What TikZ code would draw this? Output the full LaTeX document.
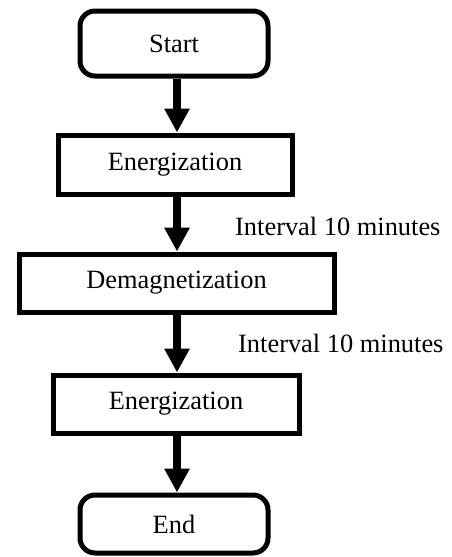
\documentclass[tikz,border=0pt]{standalone}
\usepackage{fontspec}
\setmainfont{Liberation Serif}
\usetikzlibrary{arrows.meta}
\begin{document}
\begin{tikzpicture}[x=1pt,y=-1pt,
  every node/.style={font=\fontsize{26.4}{30}\selectfont},
  term/.style={draw, line width=5pt, rounded corners=15pt, inner sep=0pt, minimum width=188pt},
  proc/.style={draw, line width=5pt, inner sep=0pt, minimum height=58pt},
  flow/.style={line width=8pt, -{Triangle[width=24pt,length=24pt]}},
  lbl/.style={anchor=base west, inner sep=0pt}]
\useasboundingbox (0,0) rectangle (452,557);
\node[term, minimum height=65pt] (start) at (174,43.5) {Start};
\node[proc, minimum width=234pt, minimum height=59pt] (en1) at (175,164.5) {Energization};
\node[proc, minimum width=315pt] (demag) at (176.5,283) {Demagnetization};
\node[proc, minimum width=246pt] (en2) at (176,404) {Energization};
\node[term, minimum height=58pt] (end) at (174,524) {End};
\coordinate (ax) at (177,0);
\draw[flow] (start.south -| ax) -- (en1.north -| ax);
\draw[flow] (en1.south -| ax) -- (demag.north -| ax);
\draw[flow] (demag.south -| ax) -- (en2.north -| ax);
\draw[flow] (en2.south -| ax) -- (end.north -| ax);
\node[lbl] (l1) at (235,235) {Interval 10 minutes};
\node[lbl] (l2) at (238,352) {Interval 10 minutes};
\end{tikzpicture}
\end{document}
